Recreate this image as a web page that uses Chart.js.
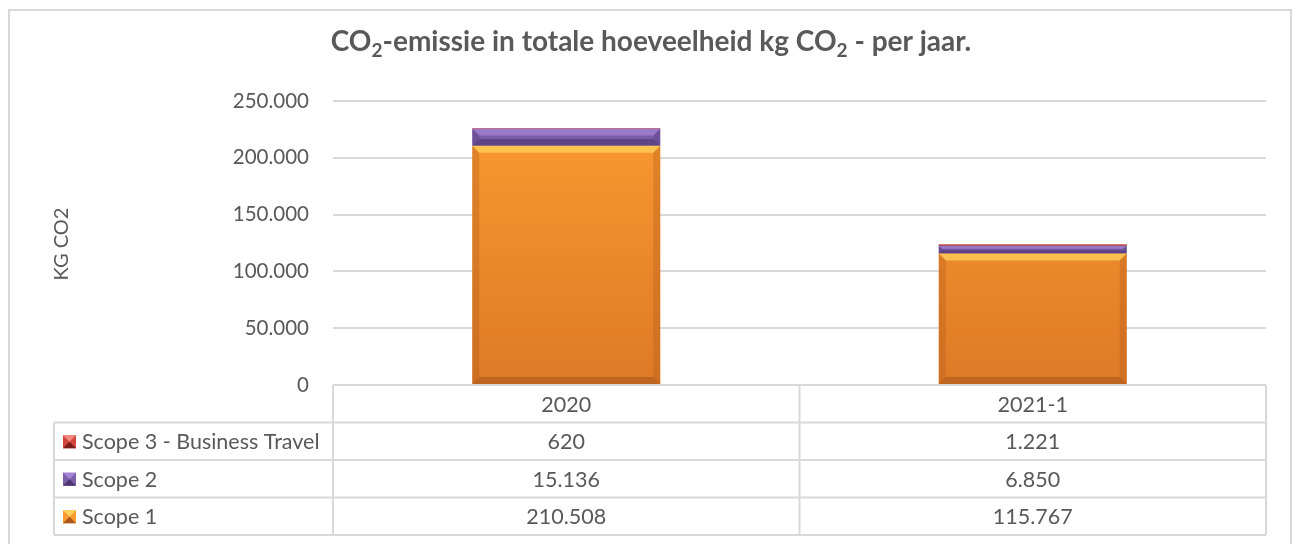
<!DOCTYPE html>
<html>
<head>
<meta charset="utf-8">
<script src="https://cdn.jsdelivr.net/npm/chart.js@4/dist/chart.umd.min.js"></script>
<style>
  html, body { margin: 0; padding: 0; background: #fff; }
  #wrap { width: 1297px; height: 544px; position: relative; }
</style>
</head>
<body>
<div id="wrap"><canvas id="co2Chart"></canvas></div>
<script>
// Gegevens uit de grafiek
const categories = ['2020', '2021-1'];
const scope1 = [210508, 115767];
const scope2 = [15136, 6850];
const scope3 = [620, 1221];
const seriesLabels = ['Scope 1', 'Scope 2', 'Scope 3 - Business Travel'];
const yTicks = [0, 50000, 100000, 150000, 200000, 250000];

const FONT = 'Lato, "Open Sans", sans-serif';
const TEXT = '#595959';
const GRID = '#D9D9D9';

function fmt(v) {
    return String(v).replace(/\B(?=(\d{3})+(?!\d))/g, '.');
}

// kleur per reeks: [hoofdkleur boven, hoofdkleur onder, lichte rand, donkere rand]
const seriesColors = [
    ['#FC9B31', '#DE7926', '#FFD35C', '#A9561A'],
    ['#7D5EAB', '#6A4D96', '#A683D6', '#4D3673'],
    ['#D2453C', '#B0302A', '#F08A80', '#7A1E1A']
];

function barGradient(ctx, idx) {
    const area = ctx.chart.chartArea;
    if (!area) return seriesColors[idx][0];
    const g = ctx.chart.ctx.createLinearGradient(0, area.top, 0, area.bottom);
    g.addColorStop(0, seriesColors[idx][0]);
    g.addColorStop(1, seriesColors[idx][1]);
    return g;
}

// titel met subscript
const titlePlugin = {
    id: 'titleSub',
    afterDraw(chart) {
        const c = chart.ctx;
        const parts = [
            ['CO', false], ['2', true], ['-emissie in totale hoeveelheid kg CO', false],
            ['2', true], [' - per jaar.', false]
        ];
        const big = 'bold 28px ' + FONT;
        const small = 'bold 19px ' + FONT;
        let total = 0;
        parts.forEach(p => { c.font = p[1] ? small : big; total += c.measureText(p[0]).width; });
        let x = 651 - total / 2;
        const y = 51;
        c.save();
        c.fillStyle = TEXT;
        c.textBaseline = 'alphabetic';
        c.textAlign = 'left';
        parts.forEach(p => {
            c.font = p[1] ? small : big;
            c.fillText(p[0], x, p[1] ? y + 6 : y);
            x += c.measureText(p[0]).width;
        });
        c.restore();
    }
};

// rand, as-titel en gegevenstabel
const framePlugin = {
    id: 'frameTable',
    beforeDraw(chart) {
        const c = chart.ctx;
        c.save();
        c.fillStyle = '#fff';
        c.fillRect(0, 0, chart.width, chart.height);
        c.strokeStyle = GRID;
        c.lineWidth = 2;
        c.strokeRect(9, 10, 1282, 600);
        c.restore();
    },
    afterDraw(chart) {
        const c = chart.ctx;
        const area = chart.chartArea;
        const xs = chart.scales.x;
        c.save();
        // as-titel
        c.translate(62, 244);
        c.rotate(-Math.PI / 2);
        c.fillStyle = TEXT;
        c.font = '20px ' + FONT;
        c.textAlign = 'center';
        c.textBaseline = 'middle';
        c.fillText('KG CO2', 0, 0);
        c.restore();

        const rowH = 37.5;
        const top = area.bottom;
        const keyLeft = 54;
        const right = area.right;
        const bounds = [area.left];
        categories.forEach((_, i) => {
            bounds.push(i < categories.length - 1 ? (xs.getPixelForValue(i) + xs.getPixelForValue(i + 1)) / 2 : right);
        });
        const bottom = top + rowH * 4;

        c.save();
        c.strokeStyle = GRID;
        c.lineWidth = 2;
        c.beginPath();
        c.moveTo(area.left, top); c.lineTo(right, top);
        for (let r = 1; r <= 4; r++) {
            c.moveTo(keyLeft, top + rowH * r); c.lineTo(right, top + rowH * r);
        }
        c.moveTo(keyLeft, top + rowH); c.lineTo(keyLeft, bottom);
        bounds.forEach(b => { c.moveTo(b, top); c.lineTo(b, bottom); });
        c.stroke();

        c.fillStyle = TEXT;
        c.font = '21.5px ' + FONT;
        c.textBaseline = 'middle';
        c.textAlign = 'center';
        categories.forEach((cat, i) => c.fillText(cat, xs.getPixelForValue(i), top + rowH / 2 + 1));

        const rows = chart.data.datasets.slice().reverse();
        rows.forEach((ds, r) => {
            const cy = top + rowH * (r + 1.5) + 1;
            const idx = chart.data.datasets.indexOf(ds);
            const col = seriesColors[idx];
            // legendasleutel
            const kx = 63, ky = cy - 7, ks = 13;
            c.fillStyle = col[0];
            c.fillRect(kx, ky, ks, ks);
            c.fillStyle = col[2];
            c.beginPath(); c.moveTo(kx, ky); c.lineTo(kx + ks, ky); c.lineTo(kx + ks / 2, ky + ks / 2); c.fill();
            c.fillStyle = col[3];
            c.beginPath(); c.moveTo(kx, ky + ks); c.lineTo(kx + ks, ky + ks); c.lineTo(kx + ks / 2, ky + ks / 2); c.fill();
            c.fillStyle = TEXT;
            c.textAlign = 'left';
            c.fillText(ds.label, 82, cy);
            c.textAlign = 'center';
            ds.data.forEach((v, i) => c.fillText(fmt(v), xs.getPixelForValue(i), cy));
        });
        c.restore();
    }
};

// afgeschuinde randen op de staven
const bevelPlugin = {
    id: 'bevel',
    afterDatasetsDraw(chart) {
        const c = chart.ctx;
        chart.data.datasets.forEach((ds, di) => {
            const meta = chart.getDatasetMeta(di);
            const col = seriesColors[di];
            meta.data.forEach(bar => {
                const p = bar.getProps(['x', 'y', 'base', 'width'], true);
                const l = p.x - p.width / 2, r = p.x + p.width / 2;
                const t = Math.min(p.y, p.base), b = Math.max(p.y, p.base);
                const h = b - t;
                if (h < 1) return;
                const s = Math.min(7, h / 2.5);
                c.save();
                c.globalAlpha = 0.75;
                c.fillStyle = col[2];
                c.beginPath(); c.moveTo(l, t); c.lineTo(r, t); c.lineTo(r - s, t + s); c.lineTo(l + s, t + s); c.fill();
                c.globalAlpha = 0.3;
                c.fillStyle = col[3];
                c.beginPath(); c.moveTo(l, t); c.lineTo(l + s, t + s); c.lineTo(l + s, b - s); c.lineTo(l, b); c.fill();
                c.beginPath(); c.moveTo(r, t); c.lineTo(r - s, t + s); c.lineTo(r - s, b - s); c.lineTo(r, b); c.fill();
                c.globalAlpha = 0.6;
                c.beginPath(); c.moveTo(l, b); c.lineTo(l + s, b - s); c.lineTo(r - s, b - s); c.lineTo(r, b); c.fill();
                c.restore();
            });
        });
    }
};

const ctx = document.getElementById('co2Chart');
new Chart(ctx, {
    type: 'bar',
    data: {
        labels: categories,
        datasets: [scope1, scope2, scope3].map((values, i) => ({
            label: seriesLabels[i],
            data: values,
            backgroundColor: (context) => barGradient(context, i),
            borderWidth: 0,
            categoryPercentage: 1,
            barPercentage: 0.403
        }))
    },
    options: {
        responsive: true,
        maintainAspectRatio: false,
        animation: false,
        layout: { padding: { top: 101, right: 31, bottom: 159, left: 0 } },
        plugins: {
            legend: { display: false },
            tooltip: { enabled: false }
        },
        scales: {
            x: {
                stacked: true,
                display: false
            },
            y: {
                stacked: true,
                min: 0,
                max: 250000,
                afterFit(scale) { scale.width = 333; },
                afterBuildTicks(scale) { scale.ticks = yTicks.map(v => ({ value: v })); },
                border: { display: false },
                grid: { color: GRID, lineWidth: 2, drawTicks: false },
                ticks: {
                    padding: 24,
                    color: TEXT,
                    font: { family: FONT, size: 20.5 },
                    callback: (v) => fmt(v)
                }
            }
        }
    },
    plugins: [framePlugin, bevelPlugin, titlePlugin]
});
</script>
</body>
</html>
